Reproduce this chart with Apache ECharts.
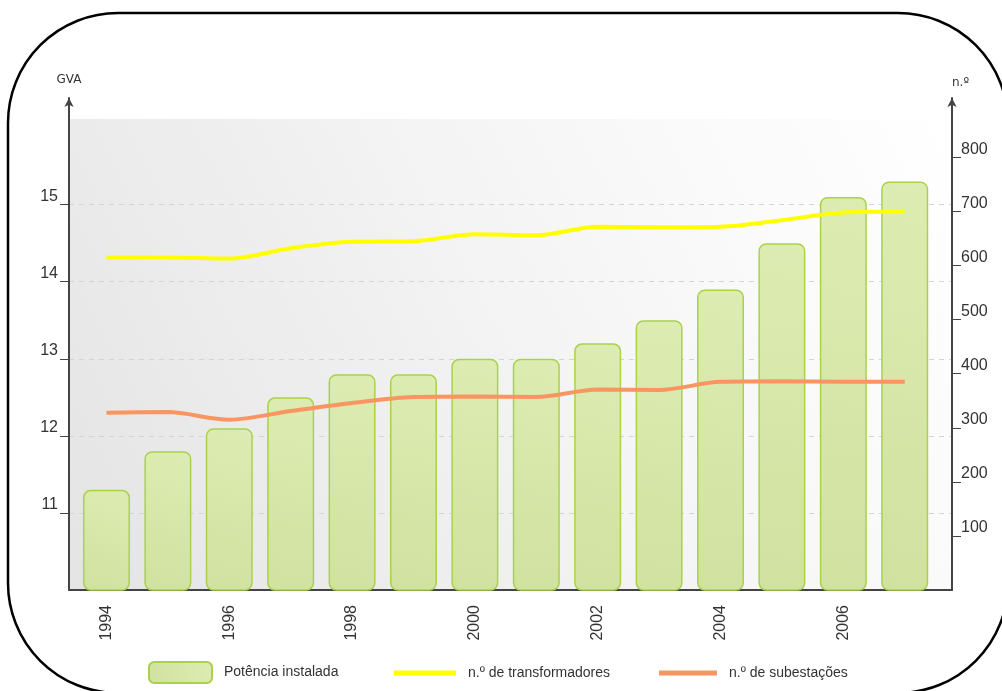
<!DOCTYPE html>
<html>
<head>
<meta charset="utf-8">
<script src="https://cdn.jsdelivr.net/npm/echarts@6/dist/echarts.min.js"></script>
<style>
html, body { margin: 0; padding: 0; background: #fff; }
#chart { width: 1002px; height: 691px; }
</style>
</head>
<body>
<div id="chart"></div>
<script>
// dados
var years = [1994, 1995, 1996, 1997, 1998, 1999, 2000, 2001, 2002, 2003, 2004, 2005, 2006, 2007];
var yearLabels = [1994, 1996, 1998, 2000, 2002, 2004, 2006];
var potencia = [11.3, 11.8, 12.1, 12.5, 12.8, 12.8, 13.0, 13.0, 13.2, 13.5, 13.9, 14.5, 15.1, 15.3];
var transformadores = [615, 615, 613, 632, 644, 645, 658, 656, 672, 671, 672, 684, 698, 700];
var subestacoes = [328, 329, 315, 331, 346, 357, 358, 357, 371, 370, 385, 386, 385, 385];
var gvaTicks = [11, 12, 13, 14, 15];
var nTicks = [100, 200, 300, 400, 500, 600, 700, 800];

var font = 'Liberation Sans, Arial, sans-serif';
var axisColor = '#444';

function pairs (vals) {
  return years.map(function (y, i) { return [y, vals[i]] })
}

var chart = echarts.init(document.getElementById('chart'))

var legendText = { fontSize: 14, color: '#333', fontFamily: font, padding: [0, 0, 0, 7] }

var option = {
  animation: false,
  textStyle: { fontFamily: font },
  graphic: [
    {
      type: 'rect',
      z: -10,
      shape: { x: 8, y: 13, width: 1000, height: 680, r: 110 },
      style: { fill: 'none', stroke: '#000', lineWidth: 2.5 }
    },
    {
      type: 'rect',
      z: -10,
      shape: { x: 69, y: 119, width: 883, height: 471 },
      style: {
        fill: new echarts.graphic.LinearGradient(0, 1, 1, 0, [
          { offset: 0, color: '#e4e4e4' },
          { offset: 0.6, color: '#f6f6f6' },
          { offset: 1, color: '#ffffff' }
        ])
      }
    }
  ],
  grid: {
    left: 69,
    right: 50,
    top: 98,
    bottom: 101
  },
  legend: [
    {
      data: ['Potência instalada'],
      left: 148,
      top: 661,
      padding: 0,
      icon: 'roundRect',
      itemWidth: 63,
      itemHeight: 21,
      textStyle: legendText
    },
    {
      data: ['n.º de transformadores'],
      left: 394,
      top: 666,
      padding: 0,
      icon: 'rect',
      itemWidth: 62,
      itemHeight: 5,
      textStyle: legendText
    },
    {
      data: ['n.º de subestações'],
      left: 659,
      top: 666,
      padding: 0,
      icon: 'rect',
      itemWidth: 58,
      itemHeight: 5,
      textStyle: legendText
    }
  ],
  xAxis: {
    type: 'value',
    min: 1993.39,
    max: 2007.77,
    axisLine: { lineStyle: { color: axisColor, width: 2 } },
    axisTick: { show: false },
    splitLine: { show: false },
    axisLabel: {
      customValues: yearLabels,
      formatter: function (v) { return String(v) },
      rotate: 90,
      margin: 15,
      fontSize: 16,
      color: '#333',
      fontFamily: font
    }
  },
  yAxis: [
    {
      type: 'value',
      position: 'left',
      min: 10,
      max: 16.383,
      name: 'GVA',
      nameGap: 12,
      nameTextStyle: { fontSize: 12, color: '#333', fontFamily: 'DejaVu Sans', align: 'center' },
      axisLine: {
        show: true,
        symbol: ['none', 'arrow'],
        symbolSize: [7, 9],
        lineStyle: { color: axisColor, width: 2 }
      },
      axisTick: {
        show: true,
        customValues: gvaTicks,
        length: 9,
        lineStyle: { color: axisColor, width: 1 }
      },
      axisLabel: {
        customValues: gvaTicks,
        margin: 11,
        verticalAlign: 'bottom',
        fontSize: 16,
        color: '#333',
        fontFamily: font
      },
      splitLine: {
        show: true,
        lineStyle: { color: '#d4d4d4', type: [5, 5], width: 1 }
      }
    },
    {
      type: 'value',
      position: 'right',
      min: 0,
      max: 910,
      name: 'n.º',
      nameGap: 9,
      nameTextStyle: { fontSize: 12, color: '#333', fontFamily: 'DejaVu Sans', align: 'left' },
      axisLine: {
        show: true,
        symbol: ['none', 'arrow'],
        symbolSize: [7, 9],
        lineStyle: { color: axisColor, width: 2 }
      },
      axisTick: {
        show: true,
        customValues: nTicks,
        length: 9,
        lineStyle: { color: axisColor, width: 1 }
      },
      axisLabel: {
        customValues: nTicks,
        margin: 9,
        verticalAlign: 'bottom',
        fontSize: 16,
        color: '#333',
        fontFamily: font
      },
      splitLine: { show: false }
    }
  ],
  series: [
    {
      name: 'Potência instalada',
      type: 'bar',
      yAxisIndex: 0,
      barWidth: 47,
      data: pairs(potencia),
      itemStyle: {
        color: new echarts.graphic.LinearGradient(0, 1, 1, 0, [
          { offset: 0, color: '#d1e1a0' },
          { offset: 1, color: '#ddecb2' }
        ]),
        borderColor: '#a9d24a',
        borderWidth: 1.5,
        borderRadius: 7
      }
    },
    {
      name: 'n.º de transformadores',
      type: 'line',
      yAxisIndex: 1,
      smooth: 0.3,
      showSymbol: false,
      data: pairs(transformadores),
      itemStyle: { color: '#ffff00' },
      lineStyle: { color: '#ffff00', width: 4 }
    },
    {
      name: 'n.º de subestações',
      type: 'line',
      yAxisIndex: 1,
      smooth: 0.3,
      showSymbol: false,
      data: pairs(subestacoes),
      itemStyle: { color: '#f99560' },
      lineStyle: { color: '#f99560', width: 4 }
    }
  ]
}

chart.setOption(option)
window.addEventListener('resize', function () {
  chart.resize()
})
</script>
</body>
</html>
